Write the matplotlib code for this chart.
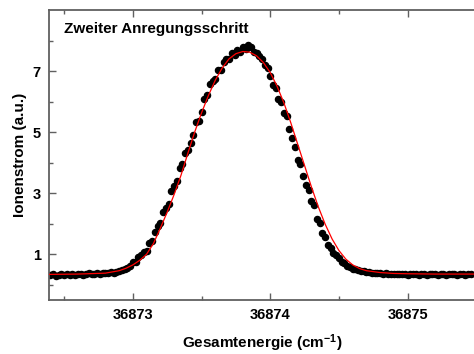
import numpy as np
import matplotlib
matplotlib.use("Agg")
import matplotlib.pyplot as plt

plt.rcParams['font.family'] = ['Liberation Sans', 'DejaVu Sans']
plt.rcParams['font.weight'] = 'bold'
plt.rcParams['mathtext.fontset'] = 'custom'
plt.rcParams['mathtext.rm'] = 'Liberation Sans:bold'
plt.rcParams['mathtext.bf'] = 'Liberation Sans:bold'
plt.rcParams['mathtext.default'] = 'bf'

# measured ion current, three scan pieces (start and step in cm^-1)
start_left, step_left = 36872.40, 0.02
ion_left = [0.31, 0.34, 0.30, 0.33, 0.35, 0.32, 0.34, 0.31, 0.35, 0.33,
            0.34, 0.36, 0.33, 0.35, 0.37, 0.34, 0.36, 0.38, 0.35, 0.37,
            0.39, 0.38, 0.41, 0.40, 0.43, 0.45, 0.48, 0.52, 0.55, 0.60]

start_peak, step_peak = 36873.00, 0.02
ion_peak = [0.76, 0.74, 0.90, 0.96, 1.08, 1.12, 1.36, 1.42, 1.74, 1.92,
            2.02, 2.38, 2.52, 2.66, 3.08, 3.24, 3.40, 3.84, 3.95, 4.30,
            4.40, 4.66, 4.90, 5.32, 5.36, 5.66, 6.10, 6.22, 6.58, 6.66,
            6.75, 7.05, 7.02, 7.30, 7.40, 7.38, 7.58, 7.52, 7.68, 7.62,
            7.80, 7.72, 7.85, 7.78, 7.64, 7.60, 7.50, 7.40, 7.20, 7.10,
            6.85, 6.55, 6.45, 6.10, 5.98, 5.62, 5.52, 5.10, 4.80, 4.52,
            4.10, 3.96, 3.55, 3.28, 3.12, 2.74, 2.62, 2.16, 2.02, 1.70,
            1.58, 1.30, 1.22, 1.05, 0.98, 0.86, 0.74, 0.70, 0.62, 0.58,
            0.53]

start_right, step_right = 36874.62, 0.02
ion_right = [0.50, 0.48, 0.46, 0.44, 0.42, 0.41, 0.40, 0.38, 0.39, 0.37,
             0.36, 0.37, 0.35, 0.36, 0.34, 0.35, 0.36, 0.34, 0.35, 0.33,
             0.35, 0.34, 0.36, 0.33, 0.35, 0.34, 0.33, 0.35, 0.34, 0.36,
             0.33, 0.34, 0.35, 0.33, 0.34, 0.36, 0.34, 0.33, 0.35, 0.34,
             0.33, 0.35, 0.34]

# fitted line profile
fit_energy = [36872.39, 36872.60, 36872.80, 36872.90, 36872.95, 36873.00,
              36873.05, 36873.10, 36873.15, 36873.20, 36873.25, 36873.30,
              36873.35, 36873.40, 36873.45, 36873.50, 36873.55, 36873.60,
              36873.65, 36873.70, 36873.75, 36873.80, 36873.85, 36873.90,
              36873.95, 36874.00, 36874.05, 36874.10, 36874.15, 36874.20,
              36874.25, 36874.30, 36874.35, 36874.40, 36874.45, 36874.50,
              36874.55, 36874.60, 36874.65, 36874.70, 36874.80, 36874.90,
              36875.00, 36875.20, 36875.48]
fit_ion = [0.34, 0.35, 0.38, 0.46, 0.54, 0.65,
           0.80, 1.00, 1.35, 1.85, 2.38, 2.95,
           3.58, 4.30, 5.00, 5.63, 6.20, 6.70,
           7.10, 7.40, 7.57, 7.64, 7.62, 7.50,
           7.28, 6.95, 6.50, 5.95, 5.30, 4.60,
           3.90, 3.20, 2.55, 1.98, 1.50, 1.12,
           0.84, 0.65, 0.53, 0.46, 0.40, 0.37,
           0.36, 0.35, 0.35]

x_ticks = [36873, 36874, 36875]
y_ticks = [1, 3, 5, 7]


def scan_axis(start, step, values):
    return start + step * np.arange(len(values))


energy = np.concatenate([scan_axis(start_left, step_left, ion_left),
                         scan_axis(start_peak, step_peak, ion_peak),
                         scan_axis(start_right, step_right, ion_right)])
ion = np.concatenate([ion_left, ion_peak, ion_right])

fig = plt.figure(figsize=(4.74, 3.54), dpi=100)
ax = fig.add_axes([0.1034, 0.1525, 0.9016, 0.8192])

ax.plot(energy, ion, 'o', color='black', markersize=4.4, zorder=2)
ax.plot(fit_energy, fit_ion, '-', color='red', linewidth=0.9, zorder=3)

ax.set_xlim(36872.39, 36875.48)
ax.set_ylim(-0.5, 9.0)

ax.set_xticks(x_ticks)
ax.set_xticklabels([str(v) for v in x_ticks])
ax.set_xticks([36872.5, 36873.5, 36874.5, 36875.5], minor=True)
ax.set_yticks(y_ticks)
ax.set_yticklabels([str(v) for v in y_ticks])
ax.set_yticks([0, 2, 4, 6, 8], minor=True)

spine_col = '#606060'
for side in ['left', 'bottom', 'top']:
    ax.spines[side].set_color(spine_col)
    ax.spines[side].set_linewidth(1.3)
ax.spines['right'].set_visible(False)

ax.tick_params(which='both', direction='in', top=True, right=False,
               color=spine_col, width=1.0, labelsize=10.5)
ax.tick_params(which='major', length=5, pad=6)
ax.tick_params(which='minor', length=3)

ax.set_xlabel('Gesamtenergie (cm$^{-1}$)', fontsize=11, fontweight='bold',
              labelpad=7)
ax.set_ylabel('Ionenstrom (a.u.)', fontsize=11, fontweight='bold',
              labelpad=4)

ax.text(0.035, 0.935, 'Zweiter Anregungsschritt', transform=ax.transAxes,
        fontsize=11, fontweight='bold', ha='left', va='center')

fig.savefig('out.png', dpi=100)
